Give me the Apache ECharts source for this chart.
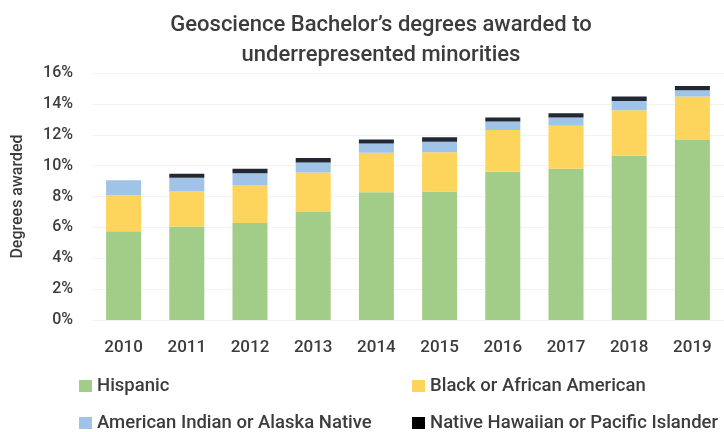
<!DOCTYPE html>
<html>
<head>
<meta charset="utf-8">
<script src="https://cdn.jsdelivr.net/npm/echarts@6/dist/echarts.min.js"></script>
<style>html,body{margin:0;padding:0;background:#fff;}#c{width:724px;height:432px;}</style>
</head>
<body>
<div id="c"></div>
<script>
const years = ['2010','2011','2012','2013','2014','2015','2016','2017','2018','2019'];
const hispanic = [5.75, 6.05, 6.28, 7.0, 8.28, 8.32, 9.61, 9.79, 10.65, 11.66];
const black = [2.35, 2.3, 2.47, 2.55, 2.56, 2.54, 2.69, 2.79, 2.94, 2.81];
const amIndian = [0.95, 0.87, 0.75, 0.66, 0.6, 0.69, 0.56, 0.54, 0.6, 0.41];
const hawaiian = [0, 0.25, 0.29, 0.29, 0.26, 0.28, 0.26, 0.28, 0.28, 0.28];
const yTicks = [0, 2, 4, 6, 8, 10, 12, 14, 16];

const FONT = 'Roboto';
const chart = echarts.init(document.getElementById('c'), null, {renderer: 'canvas'});
const names = ['Hispanic', 'Black or African American', 'American Indian or Alaska Native', 'Native Hawaiian or Pacific Islander'];
const colors = ['#a2cd88', '#fdd55c', '#9fc4e8', '#222833'];
const legendColors = ['#a2cd88', '#fdd55c', '#9fc4e8', '#000000'];
const datas = [hispanic, black, amIndian, hawaiian];
const legendPos = [[74, 371], [407, 371], [74, 408], [407, 408]];

const legendText = {fontFamily: FONT, fontSize: 18.5, fontWeight: 500, color: '#3c3c3c', lineHeight: 20};
chart.setOption({
  animation: false,
  title: {
    text: 'Geoscience Bachelor\u2019s degrees awarded to\nunderrepresented minorities',
    left: 376, top: 5, textAlign: 'center',
    textStyle: {fontFamily: FONT, fontSize: 22, fontWeight: 500, color: '#3c3c3c', lineHeight: 30}
  },
  legend: names.map((n, i) => ({
    left: legendPos[i][0], top: legendPos[i][1], itemWidth: 13, itemHeight: 12, icon: 'rect',
    data: [{name: n, itemStyle: {color: legendColors[i]}}], textStyle: legendText
  })),
  grid: {left: 92, top: 73, width: 645, height: 247, containLabel: false},
  xAxis: {
    type: 'category', data: years,
    axisLine: {show: false}, axisTick: {show: false},
    axisLabel: {fontFamily: FONT, fontSize: 17, fontWeight: 500, color: '#3c3c3c', margin: 19}
  },
  yAxis: {
    type: 'value', min: 0, max: 16, interval: 2,
    name: 'Degrees awarded', nameLocation: 'middle', nameGap: 66, nameRotate: 90,
    nameTextStyle: {fontFamily: FONT, fontSize: 16, fontWeight: 500, color: '#3c3c3c'},
    axisLabel: {fontFamily: FONT, fontSize: 16, fontWeight: 500, color: '#3c3c3c', margin: 19,
      formatter: v => (yTicks.indexOf(v) >= 0 ? v + '%' : '')},
    splitLine: {lineStyle: {color: '#f2f2f2', width: 1}},
    axisLine: {show: false}, axisTick: {show: false}
  },
  series: names.map((n, i) => ({
    name: n, type: 'bar', stack: 'total', barWidth: 35,
    data: datas[i],
    itemStyle: {color: colors[i]},
    emphasis: {disabled: true}
  }))
});
</script>
</body>
</html>
